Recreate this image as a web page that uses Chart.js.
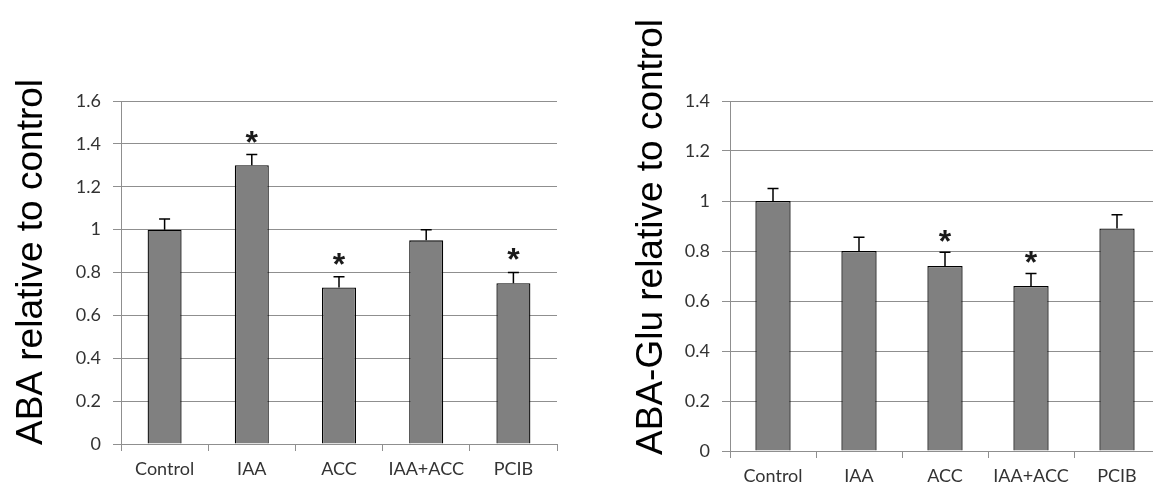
<!DOCTYPE html>
<html>
<head>
<meta charset="utf-8">
<script src="https://cdn.jsdelivr.net/npm/chart.js@4"></script>
<style>
    html, body { margin: 0; padding: 0; background: #ffffff; overflow: hidden; width: 1153px; height: 486px; }
    #wrapA { position: absolute; left: 0; top: 0; width: 580px; height: 500px; }
    #wrapB { position: absolute; left: 580px; top: 0; width: 590px; height: 500px; }
</style>
</head>
<body>
<div id="wrapA"><canvas id="abaChart"></canvas></div>
<div id="wrapB"><canvas id="gluChart"></canvas></div>
<script>
// datos
const categorias = ["Control", "IAA", "ACC", "IAA+ACC", "PCIB"];

const abaValores = [1.0, 1.30, 0.73, 0.95, 0.75];
const abaErrores = [0.05, 0.05, 0.05, 0.05, 0.05];
const abaSignif = [false, true, true, false, true];

const gluValores = [1.0, 0.80, 0.74, 0.66, 0.89];
const gluErrores = [0.05, 0.055, 0.055, 0.05, 0.055];
const gluSignif = [false, false, true, true, false];

const abaEjeMax = 1.6;
const gluEjeMax = 1.4;
const pasoEje = 0.2;

const colorRejilla = "#8f8f8f";
const colorTexto = "#333333";

// barras de error (solo hacia arriba) y asteriscos
const errorBarsPlugin = {
    id: "errorBars",
    afterDatasetsDraw(chart, args, opts) {
        const ctx = chart.ctx;
        const meta = chart.getDatasetMeta(0);
        const y = chart.scales.y;
        ctx.save();
        ctx.strokeStyle = "#000000";
        ctx.lineWidth = 1.5;
        meta.data.forEach((bar, i) => {
            const top = y.getPixelForValue(opts.valores[i] + opts.errores[i]);
            ctx.beginPath();
            ctx.moveTo(bar.x, bar.y);
            ctx.lineTo(bar.x, top);
            ctx.moveTo(bar.x - 5.5, top);
            ctx.lineTo(bar.x + 5.5, top);
            ctx.stroke();
            if (opts.signif[i]) {
                ctx.fillStyle = "#1a1a1a";
                ctx.font = "bold 32px 'Liberation Sans'";
                ctx.textAlign = "center";
                ctx.textBaseline = "alphabetic";
                const centro = top - opts.gap;
                ctx.fillText("*", bar.x, centro + 32 * 0.56);
            }
        });
        ctx.restore();
    }
};

// titulo vertical del eje y
const tituloPlugin = {
    id: "tituloY",
    afterDraw(chart, args, opts) {
        const ctx = chart.ctx;
        ctx.save();
        ctx.translate(opts.x, opts.y);
        ctx.rotate(-Math.PI / 2);
        ctx.font = "37px 'Liberation Sans'";
        ctx.fillStyle = "#000000";
        ctx.textAlign = "center";
        ctx.textBaseline = "alphabetic";
        ctx.fillText(opts.texto, 0, 0);
        ctx.restore();
    }
};

function crearGrafico(canvasId, valores, errores, signif, ejeMax, conf) {
    const el = document.getElementById(canvasId);
    if (!el) {
        console.error("No se encontro el canvas " + canvasId);
        return;
    }
    new Chart(el.getContext("2d"), {
        type: "bar",
        data: {
            labels: categorias,
            datasets: [{
                data: valores,
                backgroundColor: "#808080",
                borderColor: "#000000",
                borderWidth: 1.3,
                borderSkipped: "bottom",
                barPercentage: conf.barPct,
                categoryPercentage: 1.0
            }]
        },
        options: {
            responsive: true,
            maintainAspectRatio: false,
            animation: false,
            layout: { padding: { left: 0, right: conf.padRight, top: conf.padTop, bottom: 0 } },
            plugins: {
                legend: { display: false },
                tooltip: { enabled: false },
                errorBars: { valores: valores, errores: errores, signif: signif, gap: conf.gap },
                tituloY: { texto: conf.titulo, x: conf.tituloX, y: conf.tituloY }
            },
            scales: {
                x: {
                    afterFit: (s) => { s.height = conf.altoX; },
                    grid: { display: true, drawOnChartArea: false, drawTicks: true, tickLength: 7, color: colorRejilla, offset: true },
                    border: { display: true, color: colorRejilla, width: 1 },
                    ticks: { color: colorTexto, font: { family: "Lato", size: 18 }, padding: 7, maxRotation: 0 }
                },
                y: {
                    min: 0,
                    max: ejeMax,
                    afterFit: (s) => { s.width = conf.anchoY; },
                    grid: { color: colorRejilla, lineWidth: 1, tickLength: 8 },
                    border: { display: true, color: colorRejilla, width: 1 },
                    ticks: {
                        stepSize: pasoEje,
                        color: colorTexto,
                        font: { family: "Lato", size: 18 },
                        padding: 12,
                        callback: (v) => String(Math.round(v * 10) / 10)
                    }
                }
            }
        },
        plugins: [errorBarsPlugin, tituloPlugin]
    });
}

document.addEventListener("DOMContentLoaded", () => {
    crearGrafico("abaChart", abaValores, abaErrores, abaSignif, abaEjeMax, {
        barPct: 0.39, padRight: 23, padTop: 101, altoX: 56, anchoY: 121, gap: 20,
        titulo: "ABA relative to control", tituloX: 42, tituloY: 262
    });
    crearGrafico("gluChart", gluValores, gluErrores, gluSignif, gluEjeMax, {
        barPct: 0.41, padRight: 10, padTop: 101, altoX: 49, anchoY: 150, gap: 18,
        titulo: "ABA-Glu relative to control", tituloX: 82, tituloY: 237
    });
});
</script>
</body>
</html>
